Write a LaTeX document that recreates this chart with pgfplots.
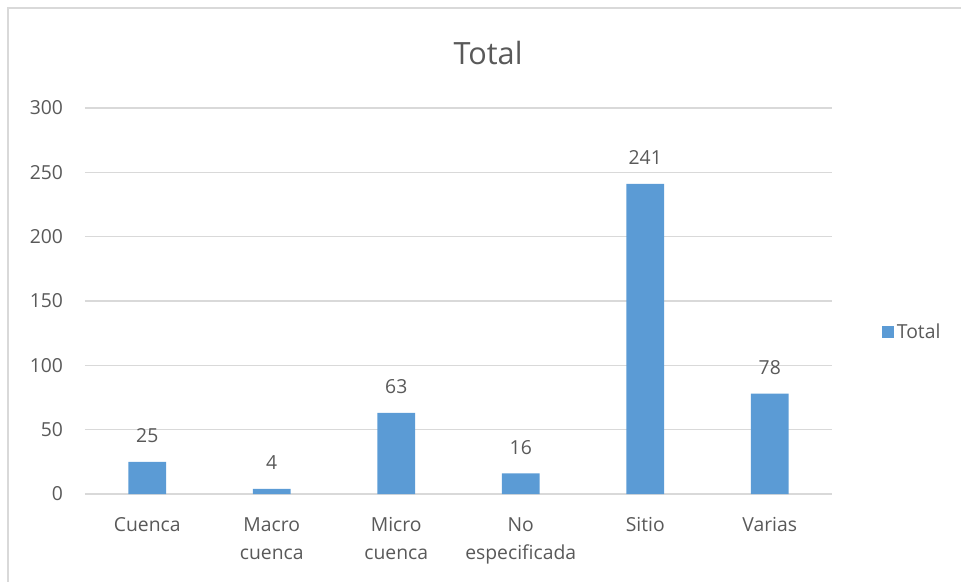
\documentclass[border=0pt]{standalone}
\usepackage{pgfplots}
\pgfplotsset{compat=1.18}
\usepackage{fontspec}
\setmainfont{Open Sans}

\definecolor{barblue}{HTML}{5B9BD5}
\definecolor{gridgray}{HTML}{D9D9D9}
\definecolor{textgray}{HTML}{595959}

\begin{document}
\begin{tikzpicture}
    % picture frame, 961x582 px at 0.75pt per px
    \path[use as bounding box] (0,0) rectangle (720.75pt,-436.5pt);
    \draw[gridgray, line width=1.2pt] (6pt,-436.5pt) -- (6pt,-6pt) -- (720.75pt,-6pt);

    \node[text=textgray, font=\fontsize{23}{28}\selectfont] at (366pt,-39.75pt) {Total};

    \begin{axis}[
        at={(63.75pt,-370.5pt)},
        anchor=south west,
        scale only axis,
        width=560.25pt,
        height=289.5pt,
        ybar,
        bar width=0.305,
        xmin=-0.5, xmax=5.5,
        ymin=0, ymax=300,
        ytick distance=50,
        xtick={0,1,2,3,4,5},
        xticklabels={Cuenca, Macro\\cuenca, Micro\\cuenca, No\\especificada, Sitio, Varias},
        axis line style={draw=none},
        tick style={draw=none},
        ymajorgrids,
        grid style={gridgray, line width=0.9pt},
        /pgf/number format/assume math mode=true,
        ticklabel style={text=textgray, font=\fontsize{14.5}{21}\selectfont},
        xticklabel style={align=center, yshift=-10pt},
        yticklabel style={xshift=-13pt},
        nodes near coords,
        every node near coord/.append style={text=textgray, font=\fontsize{14.5}{21}\selectfont, inner sep=0pt, yshift=14pt},
        legend style={at={(1.108,0.42)}, anchor=center, draw=none, fill=none,
            font=\fontsize{14.5}{21}\selectfont, text=textgray},
        legend image code/.code={\fill[barblue] (0pt,-4.5pt) rectangle (9pt,4.5pt);},
        ]
    \addplot[fill=barblue, draw=none] coordinates {
        (0,25)
        (1,4)
        (2,63)
        (3,16)
        (4,241)
        (5,78)
    };
    \addlegendentry{Total}
    \end{axis}
\end{tikzpicture}
\end{document}
